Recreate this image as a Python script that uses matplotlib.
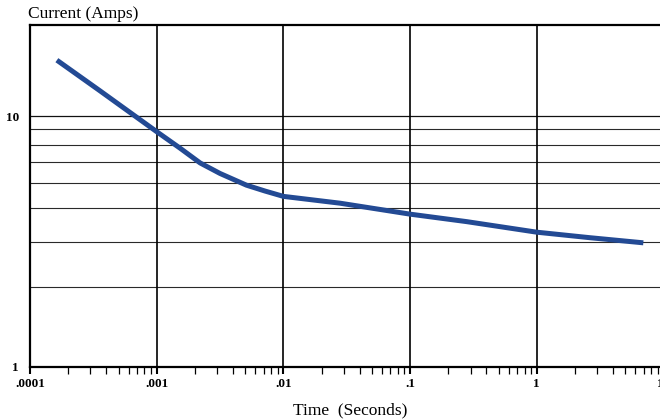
import numpy as np
import matplotlib
matplotlib.use('Agg')
import matplotlib.pyplot as plt
from matplotlib.ticker import FixedLocator, LogLocator, NullFormatter

# curve
time_s = [1.63e-4, 3.57e-4, 1e-3, 1.53e-3, 2.2e-3, 3.16e-3, 5.1e-3, 7.16e-3,
          1e-2, 2.8e-2, 1e-1, 2.8e-1, 1.0, 2.63, 6.93]
current_a = [16.7, 12.6, 8.66, 7.44, 6.50, 5.90, 5.30, 5.02,
             4.78, 4.49, 4.06, 3.79, 3.44, 3.27, 3.12]

x_ticks = [1e-4, 1e-3, 1e-2, 1e-1, 1, 10]
x_labels = ['.0001', '.001', '.01', '.1', '1', '10']
y_ticks = [1, 10]
y_labels = ['1', '10']
# horizontal rules of the original chart (not on the usual log minors)
y_rules = [2.08, 3.14, 4.28, 5.42, 6.54, 7.64, 8.85]

serif = ['Liberation Serif', 'DejaVu Serif']

fig = plt.figure(figsize=(6.6, 4.19), dpi=100)
ax = fig.add_axes([30 / 660, 52.3 / 419, 633.5 / 660, 341.7 / 419])

ax.set_xscale('log')
ax.set_yscale('log')
ax.set_xlim(1e-4, 10)
ax.set_ylim(1, 23.07)

for v in y_rules:
    ax.axhline(v, color='#2a2a2a', lw=0.8, zorder=1)
ax.axhline(10, color='#111111', lw=0.9, zorder=1)
for v in x_ticks[1:-1]:
    ax.axvline(v, color='black', lw=1.2, zorder=1)

ax.plot(time_s, current_a, color='#234a94', lw=3.6, solid_capstyle='butt',
        solid_joinstyle='round', zorder=3)

ax.xaxis.set_major_locator(FixedLocator(x_ticks))
ax.set_xticklabels(x_labels, fontfamily=serif, fontweight='bold', fontsize=9.5)
ax.xaxis.set_minor_locator(LogLocator(base=10, subs=np.arange(2, 10), numticks=20))
ax.xaxis.set_minor_formatter(NullFormatter())
ax.tick_params(axis='x', which='major', direction='out', length=5, width=1.5, pad=3)
ax.tick_params(axis='x', which='minor', direction='out', length=5, width=0.9)

ax.yaxis.set_major_locator(FixedLocator(y_ticks))
ax.set_yticklabels(y_labels, fontfamily=serif, fontweight='bold', fontsize=9.5)
ax.yaxis.set_minor_locator(FixedLocator([]))
ax.tick_params(axis='y', which='major', length=0, pad=8)

for side in ['left', 'bottom', 'top']:
    ax.spines[side].set_linewidth(1.6)
    ax.spines[side].set_color('black')
ax.spines['right'].set_visible(False)

fig.text(28 / 660, 1 - 14 / 419, 'Current (Amps)', fontfamily=serif, fontsize=12.5,
         ha='left', va='center')
fig.text(350 / 660, 1 - 410 / 419, 'Time  (Seconds)', fontfamily=serif, fontsize=12.5,
         ha='center', va='center')

fig.savefig('out.png', dpi=100)
